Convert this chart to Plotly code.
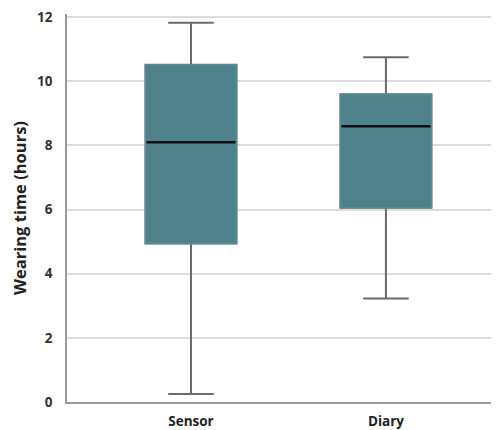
import plotly.graph_objects as go

categories = ["Sensor", "Diary"]
lower = [0.25, 3.23]
q1 = [4.94, 6.06]
median = [8.1, 8.6]
q3 = [10.52, 9.6]
upper = [11.83, 10.75]
y_ticks = [0, 2, 4, 6, 8, 10, 12]

TEAL = "#4e818b"
WHISK = "#6b6b6b"
BW = 0.467
xs = list(range(len(categories)))

fig = go.Figure()
# whiskers + caps
fig.add_trace(go.Box(
    x=xs, q1=q1, median=median, q3=q3, lowerfence=lower, upperfence=upper,
    width=BW, whiskerwidth=0.5, fillcolor=TEAL,
    line=dict(color=WHISK, width=2), boxpoints=False, hoverinfo="skip",
))
# box body covering
fig.add_trace(go.Box(
    x=xs, q1=q1, median=median, q3=q3, lowerfence=q1, upperfence=q3,
    width=BW, whiskerwidth=0, fillcolor=TEAL,
    line=dict(color="#5a8c96", width=1.5), boxpoints=False, hoverinfo="skip",
))
# medians
for i, m in enumerate(median):
    fig.add_trace(go.Scatter(
        x=[i - BW / 2 + 0.005, i + BW / 2 - 0.005], y=[m, m], mode="lines",
        line=dict(color="#111111", width=2.5), hoverinfo="skip",
    ))

fig.update_layout(
    width=499, height=430,
    margin=dict(l=59, r=8, t=6, b=36),
    paper_bgcolor="white", plot_bgcolor="white",
    showlegend=False, boxmode="overlay",
    font=dict(family="Open Sans", color="#333333"),
)
fig.update_xaxes(
    automargin=False,
    range=[-0.636, 1.58], tickmode="array", tickvals=xs, ticktext=categories,
    showgrid=False, zeroline=False, showline=True, linecolor="#999999", linewidth=1.5,
    ticks="outside", ticklen=6, tickcolor="rgba(0,0,0,0)",
    tickfont=dict(size=13.5, family="Open Sans", weight="bold", color="#222222"),
)
fig.update_yaxes(
    automargin=False, ticklabeloverflow="allow",
    range=[0, 12.1], tickmode="array", tickvals=y_ticks,
    showgrid=True, gridcolor="#dcdcdc", gridwidth=1.5, zeroline=False,
    showline=True, linecolor="#999999", linewidth=1.5,
    ticks="outside", ticklen=10, tickcolor="rgba(0,0,0,0)",
    tickfont=dict(size=13.5, family="Open Sans", weight="bold", color="#333333"),
    title=dict(text="Wearing time (hours)", standoff=12,
               font=dict(size=16.5, family="Open Sans", weight="bold", color="#222222")),
)
fig.write_html("out.html")
